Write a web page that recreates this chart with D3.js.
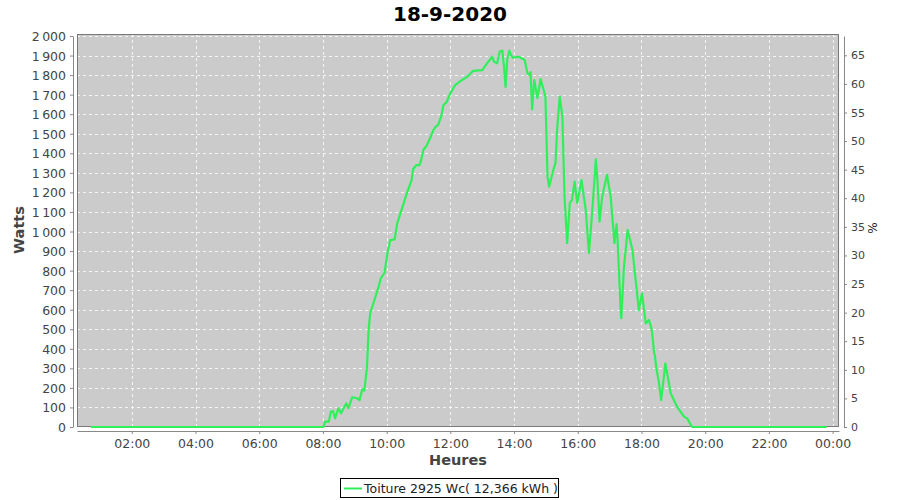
<!DOCTYPE html>
<html><head><meta charset="utf-8">
<script src="https://cdn.jsdelivr.net/npm/d3@7"></script>
<style>body{margin:0;background:#fff}svg{display:block}text{font-family:"DejaVu Sans",sans-serif}</style>
</head><body><svg id="c" width="900" height="500"></svg>
<script>
const title = "18-9-2020";
const seriesName = "Toiture 2925 Wc( 12,366 kWh )";
const peakPower = 2925;
const times = ["00:43","07:55","08:01","08:04","08:11","08:15","08:19","08:23","08:29","08:34","08:44","08:48","08:55","09:04","09:09","09:14","09:18","09:23","09:26","09:29","09:35","09:45","09:49","09:56","10:02","10:07","10:15","10:20","10:26","10:32","10:38","10:47","10:50","10:56","11:02","11:05","11:09","11:15","11:22","11:28","11:32","11:37","11:43","11:47","11:53","12:00","12:09","12:22","12:32","12:43","13:00","13:09","13:19","13:22","13:28","13:33","13:38","13:41","13:44","13:47","13:51","13:54","13:58","14:09","14:20","14:25","14:29","14:31","14:34","14:38","14:44","14:50","14:54","14:59","15:03","15:06","15:14","15:18","15:21","15:26","15:31","15:35","15:40","15:45","15:49","15:54","15:59","16:07","16:15","16:21","16:27","16:34","16:37","16:41","16:46","16:55","17:02","17:05","17:09","17:13","17:15","17:21","17:22","17:27","17:34","17:43","17:49","17:55","18:01","18:08","18:14","18:18","18:20","18:24","18:25","18:28","18:33","18:37","18:45","18:55","19:07","19:20","19:26","19:34","19:36","23:49"];
const watts = [0,0,0,27,27,78,82,44,96,70,121,96,152,147,138,193,186,308,496,581,633,718,760,789,897,956,960,1042,1093,1144,1195,1263,1320,1340,1340,1365,1417,1437,1478,1519,1535,1545,1590,1647,1662,1708,1749,1775,1792,1822,1825,1860,1894,1869,1860,1920,1925,1843,1740,1877,1925,1903,1889,1894,1877,1811,1800,1815,1625,1775,1683,1780,1740,1690,1280,1229,1315,1350,1519,1690,1587,1178,941,1146,1161,1255,1146,1263,1110,890,1094,1369,1263,1050,1178,1292,1178,1076,940,1038,956,583,557,820,1008,905,752,598,684,530,547,513,481,377,370,300,225,138,326,172,104,53,44,5,0,0];
const xTickLabels = ["02:00","04:00","06:00","08:00","10:00","12:00","14:00","16:00","18:00","20:00","22:00","00:00"];
const xTickHours = [2,4,6,8,10,12,14,16,18,20,22,24];
const wattTicks = d3.range(0, 2001, 100);
const pctTicks = d3.range(0, 66, 5);

const toH = s => { const [h,m] = s.split(":").map(Number); return h + m/60; };
const data = times.map((t,i)=>({h: toH(t), w: watts[i]}));

const svg = d3.select("#c");
const L=77, R=839, T=34, B=427;
const x = d3.scaleLinear().domain([0.28, 24.2]).range([L, R]);
const y = d3.scaleLinear().domain([0, 2000]).range([B, 36]);
const yp = d3.scaleLinear().domain([0, 2000/peakPower*100]).range([B, 36]);

const fr = d3.formatLocale({decimal:",", thousands:"\u2009", grouping:[3], currency:["","€"]});
const fmt = fr.format(",d");

svg.append("text").attr("x",450).attr("y",21).attr("text-anchor","middle")
  .attr("font-size",20).attr("font-weight","bold").attr("fill","#000").text(title);

svg.append("rect").attr("x",L).attr("y",T).attr("width",R-L).attr("height",B-T)
  .attr("fill","#cbcbcb");

const grid = svg.append("g").attr("stroke","#ffffff").attr("stroke-width",0.8).attr("stroke-dasharray","3,3");
wattTicks.forEach(v=>grid.append("line").attr("x1",L).attr("x2",R).attr("y1",Math.round(y(v))+0.5).attr("y2",Math.round(y(v))+0.5));
xTickHours.forEach(v=>grid.append("line").attr("y1",T).attr("y2",B).attr("x1",Math.round(x(v))+0.5).attr("x2",Math.round(x(v))+0.5));

svg.append("rect").attr("x",L+0.5).attr("y",T+0.5).attr("width",R-L-1).attr("height",B-T-1)
  .attr("fill","none").attr("stroke","#7a7a7a").attr("stroke-width",1);

const line = d3.line().x(d=>x(d.h)).y(d=>y(d.w));
svg.append("path").datum(data).attr("d",line).attr("fill","none")
  .attr("stroke","#2ff05a").attr("stroke-width",2.2).attr("stroke-linejoin","round");

function styleAxis(g){
  g.selectAll("path").attr("stroke","#888");
  g.selectAll("line").attr("stroke","#888");
  g.selectAll("text").attr("fill","#444").attr("font-size",12.5).attr("font-family","DejaVu Sans, sans-serif");
}
const ax = svg.append("g").attr("transform",`translate(0,${B+4})`)
  .call(d3.axisBottom(x).tickValues(xTickHours).tickFormat((d,i)=>xTickLabels[i]).tickSize(3).tickSizeOuter(0).tickPadding(5));
styleAxis(ax);
const ayl = svg.append("g").attr("transform",`translate(${L-4},0)`)
  .call(d3.axisLeft(y).tickValues(wattTicks).tickFormat(fmt).tickSize(3).tickSizeOuter(0).tickPadding(4));
styleAxis(ayl);
ayl.selectAll("text").attr("dy","0.36em");
const ayr = svg.append("g").attr("transform",`translate(${R+5},0)`)
  .call(d3.axisRight(yp).tickValues(pctTicks).tickSize(3).tickSizeOuter(0).tickPadding(4));
styleAxis(ayr);
ayr.selectAll("text").attr("font-size",11);

svg.append("text").attr("transform","translate(24,230) rotate(-90)").attr("text-anchor","middle")
  .attr("font-size",14.5).attr("font-weight","bold").attr("fill","#444").text("Watts");
svg.append("text").attr("x",458).attr("y",465).attr("text-anchor","middle")
  .attr("font-size",14.5).attr("font-weight","bold").attr("fill","#444").text("Heures");
svg.append("text").attr("transform","translate(877,228) rotate(-90)").attr("text-anchor","middle")
  .attr("font-size",12).attr("fill","#222").text("%");

const lg = svg.append("g");
lg.append("rect").attr("x",340.5).attr("y",478.5).attr("width",218).attr("height",19)
  .attr("fill","#fff").attr("stroke","#000").attr("stroke-width",1);
lg.append("line").attr("x1",344).attr("x2",362).attr("y1",488.5).attr("y2",488.5)
  .attr("stroke","#2ff05a").attr("stroke-width",2);
lg.append("text").attr("x",364).attr("y",493).attr("font-size",12.5).attr("fill","#222").text(seriesName);
</script></body></html>
